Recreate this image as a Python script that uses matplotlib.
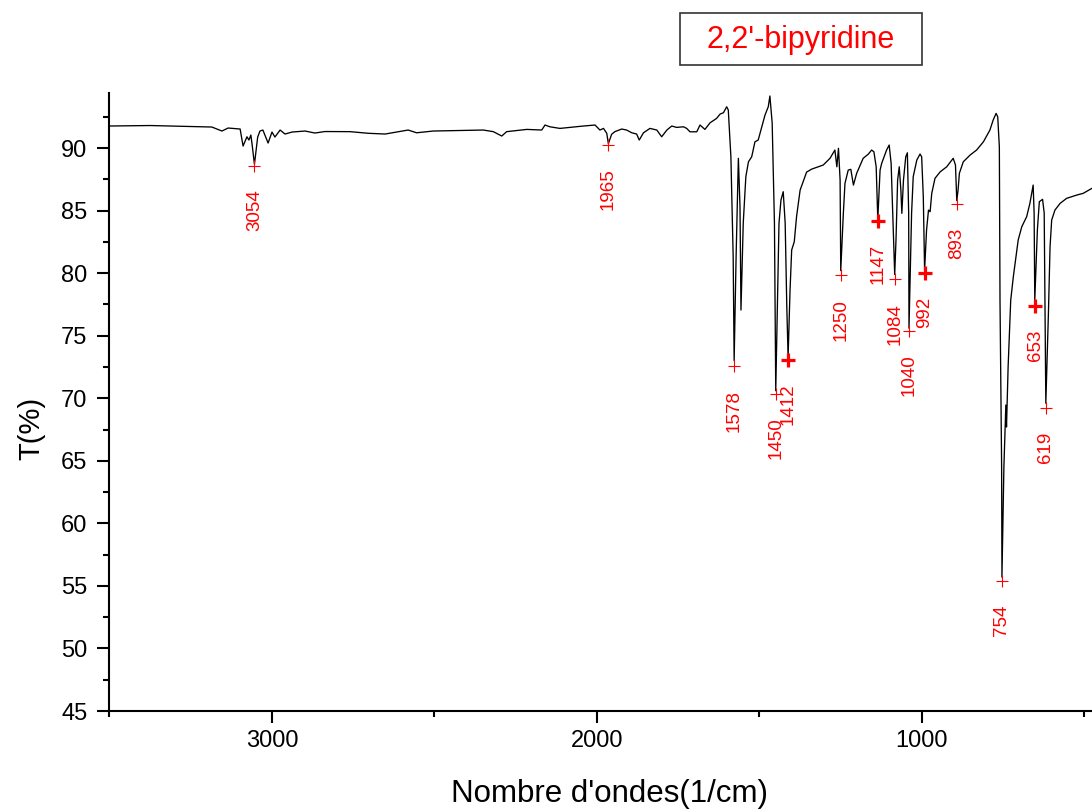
import matplotlib
matplotlib.use("Agg")
import matplotlib.pyplot as plt
from matplotlib.patches import Rectangle

plt.rcParams['font.family'] = ['Liberation Sans', 'DejaVu Sans']

# ---- data ----
wavenumber = [3501, 3375, 3185, 3154, 3135, 3098, 3089, 3077, 3071, 3065, 3061, 3054, 3044, 3037,
              3028, 3012, 3000, 2991, 2975, 2960, 2938, 2898, 2868, 2837, 2760, 2704, 2652, 2581,
              2555, 2504, 2350, 2319, 2293, 2278, 2216, 2170, 2160, 2145, 2114, 2042, 2006, 1991,
              1980, 1970, 1965, 1955, 1945, 1924, 1909, 1893, 1878, 1870, 1857, 1837, 1816, 1801,
              1785, 1770, 1755, 1734, 1724, 1714, 1693, 1683, 1668, 1652, 1632, 1621, 1611, 1601,
              1596, 1588, 1581, 1578, 1572, 1565, 1560, 1557, 1550, 1542, 1534, 1524, 1514, 1504,
              1493, 1483, 1473, 1468, 1461, 1454, 1450, 1444, 1440, 1434, 1427, 1421, 1416, 1412,
              1406, 1401, 1393, 1386, 1375, 1355, 1339, 1324, 1304, 1283, 1268, 1262, 1257, 1252,
              1250, 1242, 1237, 1227, 1219, 1211, 1201, 1181, 1165, 1155, 1148, 1141, 1136, 1129,
              1124, 1109, 1101, 1095, 1090, 1084, 1080, 1075, 1070, 1065, 1062, 1057, 1050, 1045,
              1041, 1040, 1032, 1027, 1016, 1006, 1001, 996, 992, 986, 980, 975, 970, 960, 944,
              924, 904, 897, 893, 889, 885, 873, 852, 832, 811, 791, 781, 772, 767, 762, 760, 755,
              754, 748, 742, 740, 735, 727, 719, 704, 693, 678, 668, 658, 655, 653, 645, 639, 629,
              624, 619, 611, 606, 601, 591, 575, 555, 524, 504, 477, 450]
transmittance = [91.76, 91.80, 91.68, 91.36, 91.60, 91.52, 90.16, 90.90, 90.64, 91.04, 90.24, 88.70,
                 90.88, 91.36, 91.44, 90.40, 91.28, 90.88, 91.44, 91.12, 91.28, 91.36, 91.20, 91.32,
                 91.31, 91.18, 91.12, 91.44, 91.22, 91.36, 91.44, 91.31, 90.96, 91.31, 91.49, 91.44,
                 91.84, 91.70, 91.57, 91.76, 91.84, 91.44, 91.57, 91.18, 90.35, 91.10, 91.31, 91.52,
                 91.44, 91.22, 91.12, 90.64, 91.22, 91.57, 91.44, 90.90, 91.44, 91.76, 91.65, 91.70,
                 91.57, 91.30, 91.30, 91.84, 91.49, 92.02, 92.37, 92.72, 92.82, 93.30, 93.04, 89.30,
                 81.31, 73.00, 81.31, 89.18, 85.31, 77.05, 84.00, 87.71, 88.90, 89.30, 90.50, 90.64,
                 91.70, 92.64, 93.30, 94.16, 92.00, 84.00, 70.60, 78.65, 84.00, 85.84, 86.51, 84.00,
                 77.31, 73.30, 78.65, 81.85, 82.51, 84.51, 86.64, 88.08, 88.32, 88.46, 88.64, 89.18,
                 89.84, 88.50, 89.98, 87.44, 80.20, 84.78, 87.18, 88.24, 88.30, 87.04, 87.98, 89.18,
                 89.52, 89.84, 89.70, 88.50, 84.30, 88.24, 88.78, 89.84, 90.24, 88.78, 84.78, 79.90,
                 82.65, 87.44, 88.50, 86.64, 84.78, 87.44, 89.30, 89.62, 84.80, 75.60, 84.80, 87.71,
                 89.04, 89.52, 89.30, 86.11, 80.25, 83.44, 85.04, 84.91, 86.38, 87.58, 88.10, 88.50,
                 89.18, 88.64, 85.80, 86.64, 87.98, 88.90, 89.44, 89.84, 90.50, 91.44, 92.24, 92.77,
                 92.50, 90.10, 77.85, 64.52, 55.70, 64.52, 69.46, 67.70, 72.52, 77.85, 79.71, 82.65,
                 83.71, 84.51, 85.58, 87.04, 84.80, 77.85, 83.44, 85.71, 85.90, 84.80, 69.60, 76.81,
                 82.11, 84.24, 85.04, 85.58, 85.98, 86.24, 86.38, 86.78, 87.00]

peak_wn = [3054, 1965, 1578, 1450, 1412, 1250, 1134, 1082, 1040, 991, 893, 754, 651, 619]
peak_T = [88.56, 90.24, 72.57, 70.33, 73.05, 79.85, 84.2, 79.5, 75.4, 80.0, 85.5, 55.4, 77.4, 69.2]
peak_labels = ['3054', '1965', '1578', '1450', '1412', '1250', '1147', '1084', '1040', '992',
               '893', '754', '653', '619']
bold_labels = {'1412', '1147', '992', '653'}

x_major = [3000, 2000, 1000]
x_minor = [3500, 2500, 1500, 500]
y_major = [45, 50, 55, 60, 65, 70, 75, 80, 85, 90]
y_minor = [47.5, 52.5, 57.5, 62.5, 67.5, 72.5, 77.5, 82.5, 87.5, 92.5]

title = "2,2'-bipyridine"
xlabel = "Nombre d'ondes(1/cm)"
ylabel = "T(%)"

# ---- figure ----
W, H = 1092, 809
fig = plt.figure(figsize=(W / 100, H / 100), dpi=100)
ax = fig.add_axes([109 / W, 98 / H, 1008 / W, 618 / H])

ax.plot(wavenumber, transmittance, color='black', lw=0.95)

for w, t, lbl in zip(peak_wn, peak_T, peak_labels):
    if lbl in bold_labels:
        ax.plot(w, t, marker='+', color='red', ms=10, mew=2.3, ls='none')
    else:
        ax.plot(w, t, marker='+', color='red', ms=8, mew=0.8, ls='none')
    ax.annotate(lbl, (w, t), xytext=(0, -17), textcoords='offset points',
                rotation=90, ha='center', va='top', color='red', fontsize=13.5)

ax.set_xlim(3501.5, 400)
ax.set_ylim(45, 94.4)

ax.set_xticks(x_major)
ax.set_xticks(x_minor, minor=True)
ax.set_yticks(y_major)
ax.set_yticks(y_minor, minor=True)

for s in ['top', 'right']:
    ax.spines[s].set_visible(False)
for s in ['left', 'bottom']:
    ax.spines[s].set_linewidth(1.5)

ax.tick_params(which='major', direction='out', length=8.6, width=1.5, labelsize=17)
ax.tick_params(which='minor', direction='out', length=4.3, width=1.5)
ax.tick_params(axis='x', which='major', pad=5)
ax.tick_params(axis='y', which='major', pad=7)

ax.set_xlabel(xlabel, fontsize=22.5)
ax.xaxis.set_label_coords(0.497, (711 - 779) / 618)
ax.set_ylabel(ylabel, fontsize=21)
ax.yaxis.set_label_coords((45 - 109) / 1008, (711 - 428) / 618)

fig.patches.append(Rectangle((680 / W, 1 - 65 / H), 242 / W, 52 / H,
                             transform=fig.transFigure, fill=False,
                             edgecolor='#333333', lw=1.2))
fig.text(801 / W, 1 - 40 / H, title, color='red', fontsize=22, ha='center', va='center')

fig.savefig('out.png', dpi=100)
